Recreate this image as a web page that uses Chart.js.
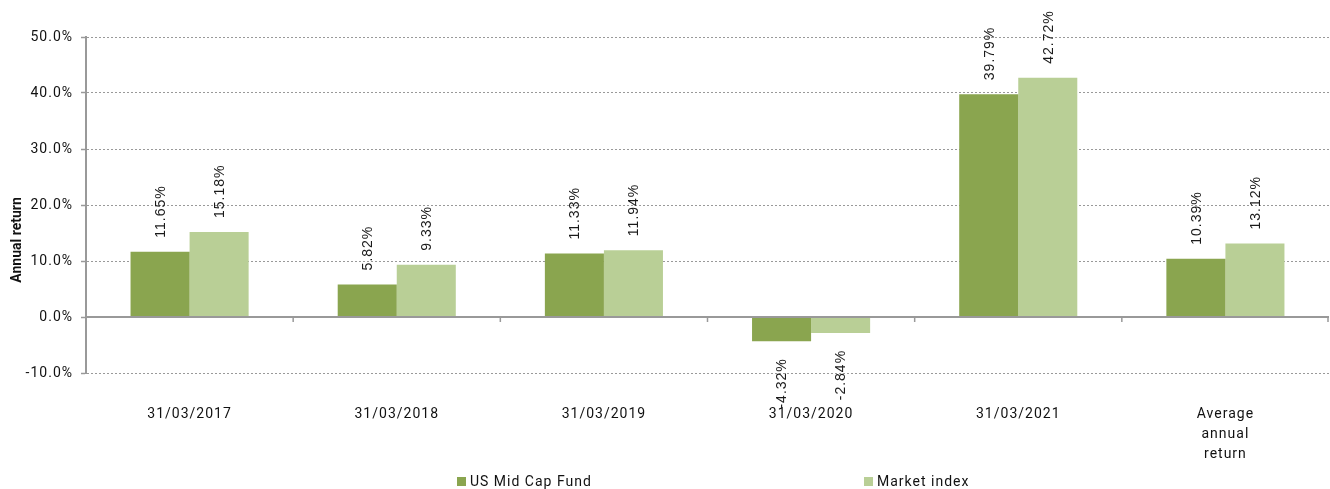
<!DOCTYPE html>
<html><head><meta charset="utf-8">
<script src="https://cdn.jsdelivr.net/npm/chart.js@4.4.1/dist/chart.umd.min.js"></script>
<style>
html,body{margin:0;padding:0;background:#fff;}
#wrap{position:relative;width:1330px;height:489px;}
#legend{position:absolute;top:472px;left:0;width:1330px;height:18px;font:14px Roboto,sans-serif;letter-spacing:1px;color:#111;}
.li{position:absolute;top:0;display:flex;align-items:center;height:18px;}
.sw{width:9px;height:9px;margin-right:4px;}
</style></head>
<body><div id="wrap"><canvas id="c" width="1330" height="489"></canvas>
<div id="legend"></div></div>
<script>
const categories = ["31/03/2017","31/03/2018","31/03/2019","31/03/2020","31/03/2021",["Average","annual","return"]];
const fundValues = [11.65,5.82,11.33,-4.32,39.79,10.39];
const indexValues = [15.18,9.33,11.94,-2.84,42.72,13.12];
const seriesNames = ["US Mid Cap Fund","Market index"];
const seriesColors = ["#8aa54f","#b9cf96"];
const yTicks = [-10,0,10,20,30,40,50];
const yTitle = "Annual return";

const legendEl = document.getElementById('legend');
[[457,0],[864,1]].forEach(([x,i])=>{
  const d=document.createElement('div');d.className='li';d.style.left=x+'px';
  d.innerHTML='<span class="sw" style="background:'+seriesColors[i]+'"></span><span>'+seriesNames[i]+'</span>';
  legendEl.appendChild(d);
});

const spacingPlugin = {id:'spacing', beforeDraw(chart){ chart.ctx.letterSpacing='1px'; }};

const titlePlugin = {
  id:'yTitle',
  afterDraw(chart){
    const ctx = chart.ctx;
    ctx.save();
    ctx.letterSpacing='0px';
    ctx.font='bold 14px Roboto, sans-serif';
    ctx.fillStyle='#111';
    ctx.textAlign='center'; ctx.textBaseline='middle';
    ctx.translate(17, 240);
    ctx.rotate(-Math.PI/2);
    ctx.fillText(yTitle,0,0);
    ctx.restore();
  }
};

const zeroLinePlugin = {
  id:'zeroLine',
  afterDatasetsDraw(chart){
    const {ctx, chartArea, scales} = chart;
    const y0 = scales.y.getPixelForValue(0);
    ctx.save();
    ctx.strokeStyle='#999'; ctx.lineWidth=2; ctx.setLineDash([]);
    ctx.beginPath(); ctx.moveTo(chartArea.left, y0); ctx.lineTo(chartArea.right, y0); ctx.stroke();
    const n = categories.length;
    const w = (chartArea.right-chartArea.left)/n;
    ctx.lineWidth=1.5;
    for(let k=1;k<=n;k++){
      const x = Math.min(chartArea.left + k*w, chartArea.right-1);
      ctx.beginPath(); ctx.moveTo(x, y0); ctx.lineTo(x, y0+5); ctx.stroke();
    }
    ctx.restore();
  }
};

const labelPlugin = {
  id:'valLabels',
  afterDatasetsDraw(chart){
    const ctx = chart.ctx;
    ctx.save();
    ctx.letterSpacing='1px';
    ctx.font='14px "Liberation Sans", Arial, sans-serif';
    ctx.fillStyle='#1a1a1a';
    ctx.textBaseline='middle';
    chart.data.datasets.forEach((ds,di)=>{
      const meta = chart.getDatasetMeta(di);
      meta.data.forEach((bar,i)=>{
        const v = ds.data[i];
        const txt = v.toFixed(2)+'%';
        ctx.save();
        if(v>=0){
          ctx.translate(bar.x+1, bar.y-14);
          ctx.rotate(-Math.PI/2);
          ctx.textAlign='left';
        } else {
          ctx.translate(bar.x+1, bar.y+17);
          ctx.rotate(-Math.PI/2);
          ctx.textAlign='right';
        }
        ctx.fillText(txt,0,0);
        ctx.restore();
      });
    });
    ctx.restore();
  }
};

new Chart(document.getElementById('c'), {
  type:'bar',
  data:{
    labels: categories,
    datasets:[
      {label:seriesNames[0], data:fundValues, backgroundColor:seriesColors[0], categoryPercentage:0.57, barPercentage:1.0},
      {label:seriesNames[1], data:indexValues, backgroundColor:seriesColors[1], categoryPercentage:0.57, barPercentage:1.0}
    ]
  },
  options:{
    responsive:false, animation:false,
    layout:{padding:{top:37,right:1,left:0,bottom:0}},
    plugins:{legend:{display:false}, tooltip:{enabled:false}},
    scales:{
      x:{
        grid:{display:false, drawTicks:false},
        border:{display:false},
        ticks:{padding:31, color:'#111', font:{family:'Roboto', size:14, lineHeight:1.45}, maxRotation:0, autoSkip:false},
        afterFit(s){ s.height = 116; }
      },
      y:{
        min:-10, max:50,
        afterBuildTicks(s){ s.ticks = yTicks.map(v=>({value:v})); },
        ticks:{padding:8, color:'#111', font:{family:'Roboto', size:14}, callback:v=>v.toFixed(1)+'%'},
        grid:{color:'#999', lineWidth:1, tickLength:5, tickColor:'#999', tickBorderDash:[], tickWidth:1.5},
        border:{display:true, color:'#999', width:2, dash:[2,2]},
        afterFit(s){ s.width = 86; }
      }
    }
  },
  plugins:[spacingPlugin, zeroLinePlugin, labelPlugin, titlePlugin]
});
</script></body></html>
